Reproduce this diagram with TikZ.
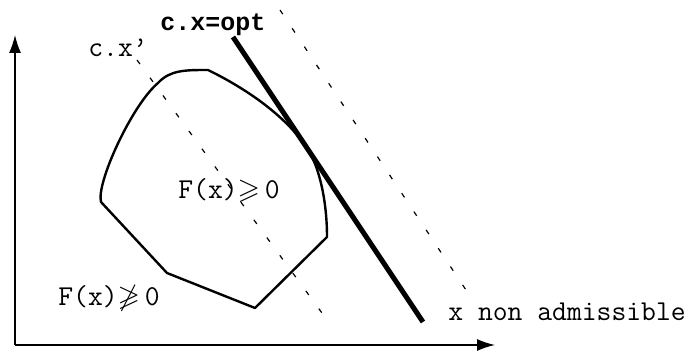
\documentclass[tikz,border=0pt]{standalone}
\usepackage{amsmath, amssymb}
\usepackage{fontspec}
\newfontfamily\optfont{Liberation Mono}
\usetikzlibrary{positioning,arrows.meta}

\begin{document}
\begin{tikzpicture}[x=0.5pt,y=-0.5pt,
  lbl/.style={font=\ttfamily\fontsize{14.4}{17}\selectfont,inner sep=0pt,anchor=west},
  level/.style={line width=0.6pt,dash pattern=on 2.5pt off 8.5pt},
  region/.style={line width=1.2pt,line join=round}]

\useasboundingbox (0,0) rectangle (692,352);

% Axes
\coordinate (origin) at (15,345);
\coordinate (ytip) at (15,35);
\coordinate (xtip) at (495,345);
\draw[line width=0.7pt,-{Latex[length=9pt,width=6pt]}] (origin) -- (ytip);
\draw[line width=0.7pt,-{Latex[length=9pt,width=6pt]}] (origin) -- (xtip);

% Admissible domain F(x) >= 0
\draw[region] (101,202) .. controls (96,183) and (132,105) .. (158,83)
  .. controls (170,70) and (185,70) .. (208,70)
  .. controls (245,88) and (285,115) .. (307,148)
  .. controls (319,166) and (327,200) .. (327,237)
  -- (255,308) -- (167,273) -- cycle;

% Level lines of c.x
\draw[level] (137,60) -- (322,313);
\draw[level] (280,10) -- (468,293);

% Optimal level line
\draw[line width=2.5pt] (233,37) -- (423,322);

% Labels
\node[lbl,font=\optfont\bfseries\fontsize{12.5}{15}\selectfont] (opt) at (160,25) {c.x=opt};
\node[lbl] (cx) at (88,48) {c.x’};
\node[lbl] (inside) at (178,190) {F(x)$\geqslant$\,0};
\node[lbl] (outside) at (58,298) {F(x)$\not\geqslant$\,0};
\node[lbl] (nonadm) at (448,312) {x non admissible};

\end{tikzpicture}
\end{document}
